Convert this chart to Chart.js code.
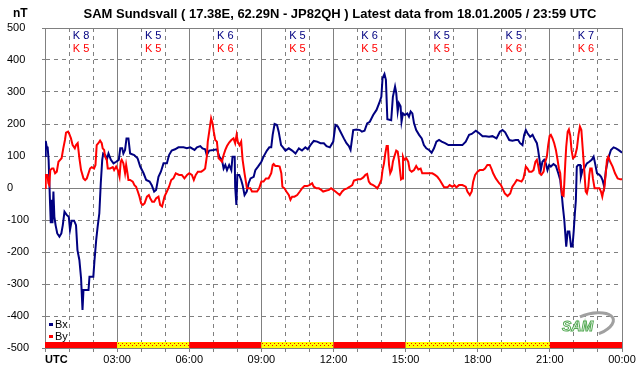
<!DOCTYPE html>
<html>
<head>
<meta charset="utf-8">
<script src="https://cdn.jsdelivr.net/npm/chart.js@4/dist/chart.umd.min.js"></script>
<style>
  html, body { margin: 0; padding: 0; background: #fff; }
  canvas { display: block; }
</style>
</head>
<body>
<canvas id="samChart" width="642" height="376" style="width:642px;height:376px"></canvas>
<script>
(function () {
  "use strict";

  // Bx component (nT) - time in hours UTC
  const bxHours = [0, 0.03, 0.07, 0.11, 0.15, 0.21, 0.24, 0.28, 0.31, 0.35, 0.39, 0.44, 0.51, 0.60, 0.68, 0.74, 0.81, 0.90, 0.99, 1.04,
    1.11, 1.21, 1.29, 1.35, 1.43, 1.50, 1.56, 1.60, 1.71, 1.81, 1.85, 2.01, 2.06, 2.13, 2.19, 2.26, 2.32, 2.38, 2.42, 2.51,
    2.57, 2.64, 2.74, 2.85, 2.96, 3.07, 3.13, 3.21, 3.26, 3.33, 3.39, 3.47, 3.54, 3.71, 3.85, 3.96, 4.10, 4.21, 4.35, 4.44,
    4.54, 4.62, 4.72, 4.82, 4.93, 5.07, 5.16, 5.27, 5.41, 5.55, 5.76, 5.90, 6.04, 6.22, 6.32, 6.46, 6.55, 6.66, 6.73, 6.83,
    7.01, 7.15, 7.25, 7.36, 7.43, 7.50, 7.57, 7.66, 7.75, 7.80, 7.89, 7.91, 7.96, 8.00, 8.08, 8.16, 8.22, 8.30, 8.39, 8.47,
    8.55, 8.68, 8.75, 8.86, 9.00, 9.09, 9.23, 9.33, 9.41, 9.47, 9.55, 9.65, 9.72, 9.82, 9.90, 10.00, 10.14, 10.28, 10.42, 10.56,
    10.69, 10.83, 10.93, 11.04, 11.18, 11.32, 11.46, 11.60, 11.71, 11.85, 11.99, 12.08, 12.18, 12.29, 12.43, 12.54, 12.64, 12.71, 12.82, 12.96,
    13.10, 13.18, 13.29, 13.40, 13.51, 13.65, 13.79, 13.90, 13.99, 14.04, 14.12, 14.18, 14.24, 14.40, 14.47, 14.56, 14.61, 14.67, 14.72, 14.79,
    14.83, 14.89, 14.97, 15.07, 15.14, 15.21, 15.28, 15.35, 15.44, 15.56, 15.67, 15.76, 15.86, 15.97, 16.08, 16.18, 16.28, 16.39, 16.50, 16.64,
    16.78, 16.94, 17.15, 17.36, 17.50, 17.64, 17.75, 17.92, 18.06, 18.20, 18.33, 18.47, 18.61, 18.78, 18.92, 19.03, 19.14, 19.31, 19.44, 19.58,
    19.68, 19.76, 19.86, 19.93, 20.00, 20.07, 20.18, 20.28, 20.37, 20.46, 20.51, 20.57, 20.62, 20.69, 20.76, 20.83, 20.90, 20.97, 21.04, 21.15,
    21.25, 21.35, 21.43, 21.49, 21.54, 21.60, 21.64, 21.68, 21.74, 21.81, 21.88, 21.94, 21.99, 22.04, 22.08, 22.12, 22.18, 22.26, 22.29, 22.36,
    22.43, 22.54, 22.64, 22.74, 22.82, 22.88, 22.96, 23.06, 23.13, 23.19, 23.26, 23.33, 23.43, 23.54, 23.65, 23.75, 23.85, 23.96, 24.00];
  const bxValues = [100, 147, 129, 127, 88, -48, -110, -37, -110, -11, -90, -116, -142, -152, -142, -116, -74, -84, -90, -131,
    -102, -102, -116, -194, -225, -282, -381, -319, -319, -319, -277, -277, -225, -162, -121, -79, 15, 88, 108, 103,
    88, 108, 88, 77, 82, 88, 124, 124, 108, 119, 155, 155, 108, 103, 93, 67, 46, 25, 20, 9,
    -11, -6, 35, 51, 77, 77, 103, 117, 121, 127, 127, 124, 127, 119, 127, 131, 124, 121, 103, 117,
    119, 121, 98, 88, 61, 72, 56, 72, 56, 98, 98, 4, -53, 41, 41, 25, 9, -22, -11, 15,
    30, 35, 56, 67, 82, 98, 117, 127, 127, 166, 200, 197, 176, 134, 127, 117, 124, 117, 108, 124,
    117, 127, 121, 134, 147, 145, 140, 140, 131, 127, 145, 197, 192, 176, 155, 140, 131, 119, 181, 183,
    181, 176, 179, 202, 207, 228, 244, 265, 285, 343, 356, 338, 215, 212, 285, 317, 297, 239, 265, 255,
    207, 233, 228, 233, 223, 239, 233, 202, 181, 166, 155, 134, 124, 119, 110, 124, 145, 150, 145, 140,
    134, 134, 134, 134, 145, 166, 169, 179, 171, 162, 162, 160, 162, 155, 176, 181, 174, 150, 148, 150,
    150, 140, 134, 166, 181, 171, 160, 166, 152, 140, 119, 88, 56, 82, 88, 77, 56, 72, 67, 75,
    69, 46, 25, -17, -58, -100, -142, -183, -136, -136, -183, -183, -136, -79, -40, 67, 72, 72, 35, 56,
    61, 77, 82, 88, 98, 77, 46, 41, 35, 25, 4, 56, 93, 119, 127, 124, 119, 113, 110];

  // By component (nT)
  const byHours = [0, 0.03, 0.10, 0.14, 0.18, 0.22, 0.29, 0.35, 0.42, 0.49, 0.56, 0.63, 0.69, 0.76, 0.83, 0.875, 0.96, 1.01, 1.08, 1.15,
    1.24, 1.29, 1.36, 1.43, 1.50, 1.60, 1.67, 1.74, 1.81, 1.875, 1.94, 2.04, 2.10, 2.15, 2.22, 2.29, 2.36, 2.40, 2.46, 2.50,
    2.57, 2.61, 2.71, 2.82, 2.875, 2.96, 3.03, 3.10, 3.15, 3.19, 3.26, 3.33, 3.375, 3.43, 3.47, 3.54, 3.65, 3.72, 3.79, 3.86,
    3.93, 4.00, 4.07, 4.14, 4.24, 4.32, 4.375, 4.46, 4.54, 4.625, 4.72, 4.79, 4.87, 4.97, 5.07, 5.16, 5.25, 5.34, 5.44, 5.58,
    5.69, 5.80, 5.91, 6.00, 6.11, 6.19, 6.27, 6.36, 6.50, 6.60, 6.66, 6.73, 6.77, 6.84, 6.91, 6.97, 7.02, 7.08, 7.15, 7.22,
    7.29, 7.36, 7.43, 7.50, 7.57, 7.66, 7.75, 7.84, 7.91, 7.97, 8.02, 8.09, 8.16, 8.22, 8.30, 8.40, 8.54, 8.61, 8.72, 8.82,
    8.91, 9.00, 9.09, 9.19, 9.30, 9.41, 9.47, 9.51, 9.58, 9.68, 9.76, 9.83, 9.875, 9.96, 10.04, 10.14, 10.21, 10.28, 10.375, 10.49,
    10.60, 10.69, 10.79, 10.90, 11.00, 11.11, 11.18, 11.29, 11.39, 11.49, 11.57, 11.71, 11.81, 11.90, 11.99, 12.08, 12.18, 12.26, 12.36, 12.46,
    12.57, 12.68, 12.78, 12.85, 12.93, 13.01, 13.125, 13.24, 13.33, 13.40, 13.47, 13.54, 13.65, 13.75, 13.82, 13.90, 13.99, 14.04, 14.10, 14.15,
    14.21, 14.26, 14.31, 14.36, 14.42, 14.47, 14.53, 14.61, 14.67, 14.72, 14.78, 14.81, 14.86, 14.89, 14.94, 15.03, 15.11, 15.17, 15.25, 15.35,
    15.44, 15.53, 15.625, 15.69, 15.83, 15.97, 16.11, 16.22, 16.32, 16.42, 16.50, 16.60, 16.74, 16.83, 16.94, 17.03, 17.11, 17.22, 17.36, 17.50,
    17.57, 17.67, 17.75, 17.81, 17.89, 17.99, 18.08, 18.22, 18.30, 18.40, 18.50, 18.58, 18.64, 18.75, 18.89, 18.96, 19.03, 19.125, 19.24, 19.35,
    19.44, 19.54, 19.625, 19.72, 19.82, 19.90, 19.96, 20.00, 20.07, 20.14, 20.24, 20.32, 20.40, 20.46, 20.51, 20.57, 20.65, 20.74, 20.79, 20.875,
    20.93, 20.99, 21.04, 21.11, 21.18, 21.25, 21.32, 21.375, 21.43, 21.47, 21.51, 21.57, 21.60, 21.64, 21.68, 21.74, 21.79, 21.85, 21.90, 21.96,
    22.04, 22.125, 22.19, 22.25, 22.31, 22.36, 22.43, 22.49, 22.54, 22.60, 22.64, 22.68, 22.74, 22.79, 22.86, 22.96, 23.06, 23.125, 23.18, 23.22,
    23.26, 23.32, 23.375, 23.43, 23.51, 23.61, 23.71, 23.82, 23.93, 24.00];
  const byValues = [0, 41, 41, 15, 9, 56, 61, 61, 46, 51, 82, 88, 93, 124, 150, 173, 176, 169, 155, 134,
    124, 134, 140, 93, 56, 30, 25, 30, 46, 61, 65, 61, 72, 134, 140, 148, 140, 124, 119, 98,
    88, 61, 61, 65, 56, 67, 56, 35, 82, 88, 77, 46, 72, 46, 25, 25, 20, 9, 4, -11,
    -27, -48, -53, -48, -27, -22, -32, -43, -43, -32, -27, -53, -58, -27, -11, 4, 25, 30, 46, 41,
    41, 30, 41, 46, 41, 25, 41, 51, 51, 56, 61, 98, 145, 181, 218, 202, 176, 150, 145, 93,
    88, 82, 103, 119, 131, 142, 150, 155, 140, 166, 145, 134, 145, 88, 46, -1, -1, -11, -11, -11,
    -1, 20, 20, 30, 30, 46, 72, 75, 69, 69, 67, 46, 4, -1, -11, -22, -37, -27, -27, -22,
    -11, -1, 6, 6, 9, 15, 4, -1, -1, -6, -11, -8, -6, -1, -6, -11, -17, -22, -11, -4,
    -1, 4, 9, 23, 25, 27, 27, 33, 41, 44, 20, 13, 9, 4, -1, 9, 25, 56, 77, 106,
    131, 131, 72, 46, 56, 82, 98, 117, 114, 88, 46, 27, 30, 98, 88, 93, 82, 56, 51, 56,
    69, 58, 61, 46, 46, 46, 46, 41, 35, 25, 15, 2, 2, 9, 4, 9, 2, 9, 9, 4,
    -11, -22, -11, 20, 41, 51, 56, 56, 61, 72, 72, 58, 46, 30, 15, 10, -1, -17, -25, -17,
    4, 15, 25, 23, 20, 30, 51, 67, 61, 51, 51, 56, 82, 88, 72, 46, 41, 51, 77, 98,
    134, 163, 166, 155, 140, 119, 88, 61, 46, 4, -22, -25, 15, 77, 129, 176, 183, 163, 119, 93,
    98, 124, 166, 192, 181, 129, 56, -11, -17, 4, 41, 61, 61, 30, -1, -1, -1, -11, -27, -11,
    -1, 41, 88, 98, 82, 67, 46, 30, 27, 27];

  // K indices per 3-hour block
  const kBx = [8, 5, 6, 5, 6, 5, 5, 7];
  const kBy = [5, 5, 6, 5, 5, 5, 6, 6];
  // status bar per 3-hour block
  const statusBlocks = ['red', 'yellow', 'red', 'yellow', 'red', 'yellow', 'yellow', 'red'];
  const timeLabels = ['UTC', '03:00', '06:00', '09:00', '12:00', '15:00', '18:00', '21:00', '00:00'];

  const titleText = 'SAM Sundsvall ( 17.38E, 62.29N - JP82QH ) Latest data from 18.01.2005 / 23:59 UTC';
  const navy = '#000080';
  const red = '#ff0000';
  const gridGray = '#808080';
  const fontFamily = "'Liberation Sans', Arial, sans-serif";

  function toPoints(hours, values) {
    return hours.map(function (h, i) { return { x: h, y: values[i] }; });
  }

  // extra drawing: title, K indices, status bar, legend, logo
  const samDecor = {
    id: 'samDecor',
    beforeDatasetsDraw: function (chart) {
      const ctx = chart.ctx;
      const xs = chart.scales.x;
      const bottom = chart.chartArea.bottom;
      ctx.save();
      statusBlocks.forEach(function (s, i) {
        const x0 = xs.getPixelForValue(i * 3);
        const x1 = xs.getPixelForValue(i * 3 + 3);
        if (s === 'red') {
          ctx.fillStyle = red;
          ctx.fillRect(x0, bottom - 6, x1 - x0, 6);
        } else {
          ctx.fillStyle = '#ffff00';
          ctx.fillRect(x0, bottom - 6, x1 - x0, 6);
          ctx.fillStyle = red;
          for (let x = Math.round(x0) + 1; x < x1; x += 4) {
            ctx.fillRect(x, bottom - 5, 1, 1);
            ctx.fillRect(x + 2, bottom - 3, 1, 1);
          }
        }
      });
      ctx.restore();
    },
    afterDraw: function (chart) {
      const ctx = chart.ctx;
      const xs = chart.scales.x;
      const area = chart.chartArea;
      ctx.save();
      ctx.textBaseline = 'middle';

      // title and unit
      ctx.fillStyle = '#000';
      ctx.font = 'bold 13px ' + fontFamily;
      ctx.textAlign = 'center';
      ctx.fillText(titleText, 340, 14);
      ctx.textAlign = 'left';
      ctx.font = 'bold 12px ' + fontFamily;
      ctx.fillText('nT', 13, 14);

      // UTC label
      ctx.font = 'bold 11px ' + fontFamily;
      ctx.fillText(timeLabels[0], area.left, 360);

      // K indices
      ctx.font = '11px ' + fontFamily;
      ctx.textAlign = 'center';
      kBx.forEach(function (k, i) {
        const cx = xs.getPixelForValue(i * 3 + 1.5);
        ctx.fillStyle = navy;
        ctx.fillText('K ' + k, cx, 36);
        ctx.fillStyle = red;
        ctx.fillText('K ' + kBy[i], cx, 49);
      });

      // legend
      ctx.textAlign = 'left';
      ctx.fillStyle = navy;
      ctx.fillRect(area.left + 4, 323, 4, 3);
      ctx.fillStyle = red;
      ctx.fillRect(area.left + 4, 335, 4, 3);
      ctx.fillStyle = '#000';
      ctx.fillText('Bx', area.left + 10, 325);
      ctx.fillText('By', area.left + 10, 337);

      // small SAM logo
      ctx.strokeStyle = '#a0a0a0';
      ctx.lineWidth = 3;
      ctx.beginPath();
      ctx.ellipse(590, 325, 24, 11, -0.25, -1.9, 1.3);
      ctx.stroke();
      ctx.font = 'italic bold 14px ' + fontFamily;
      ctx.fillStyle = '#ffffff';
      ctx.strokeStyle = '#55aa55';
      ctx.lineWidth = 1;
      ctx.fillText('SAM', 562, 327);
      ctx.strokeText('SAM', 562, 327);
      ctx.restore();
    }
  };

  const ctx = document.getElementById('samChart').getContext('2d');
  new Chart(ctx, {
    type: 'line',
    data: {
      datasets: [{
        label: 'By',
        data: toPoints(byHours, byValues),
        borderColor: red,
        borderWidth: 2,
        pointRadius: 0,
        tension: 0,
        order: 0
      }, {
        label: 'Bx',
        data: toPoints(bxHours, bxValues),
        borderColor: navy,
        borderWidth: 2,
        pointRadius: 0,
        tension: 0,
        order: 1
      }]
    },
    options: {
      responsive: false,
      animation: false,
      devicePixelRatio: 1,
      layout: { padding: { top: 28, right: 20, left: 7, bottom: 0 } },
      plugins: {
        legend: { display: false },
        tooltip: { enabled: false }
      },
      scales: {
        x: {
          type: 'linear',
          min: 0,
          max: 24,
          afterFit: function (s) { s.height = 28; },
          ticks: {
            stepSize: 1,
            autoSkip: false,
            maxRotation: 0,
            padding: 1,
            color: '#000',
            font: { family: fontFamily, size: 11 },
            callback: function (v) {
              return (v > 0 && v % 3 === 0) ? timeLabels[v / 3] : '';
            }
          },
          grid: {
            color: gridGray,
            tickColor: gridGray,
            tickLength: 4,
            lineWidth: 1
          },
          border: {
            color: gridGray,
            dash: function (c) {
              return (c.tick && c.tick.value % 3 === 0) ? [] : [4, 4];
            }
          }
        },
        y: {
          min: -500,
          max: 500,
          afterFit: function (s) { s.width = 38; },
          ticks: {
            stepSize: 100,
            crossAlign: 'far',
            color: '#000',
            font: { family: fontFamily, size: 11 },
            callback: function (v) { return String(v); }
          },
          grid: {
            color: gridGray,
            tickColor: gridGray,
            tickLength: 3,
            lineWidth: 1
          },
          border: {
            color: gridGray,
            dash: function (c) {
              const v = c.tick ? c.tick.value : 0;
              return (v === 0 || v === 500 || v === -500) ? [] : [4, 4];
            }
          }
        }
      }
    },
    plugins: [samDecor]
  });
})();
</script>
</body>
</html>
